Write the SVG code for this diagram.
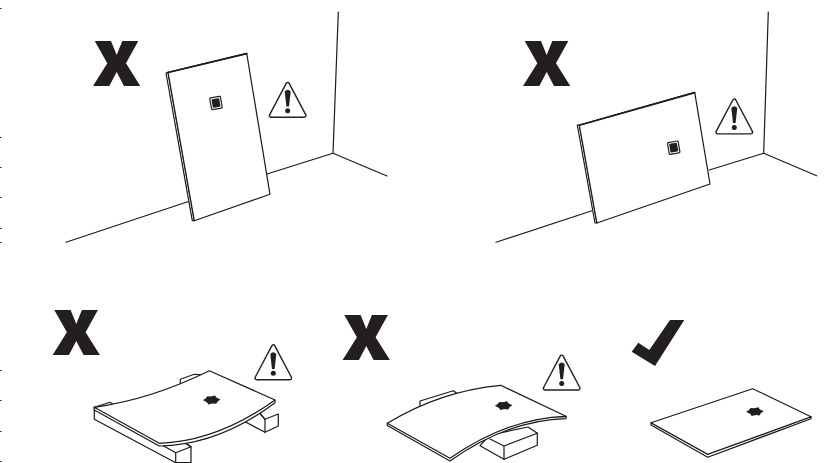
<svg xmlns="http://www.w3.org/2000/svg" width="836" height="463" viewBox="0 0 836 463">
<style>
.l{fill:none;stroke:#1a1a1a;stroke-width:1.2;stroke-linejoin:round;stroke-linecap:round}
.w{fill:#fff;stroke:#1a1a1a;stroke-width:1.2;stroke-linejoin:round}
.k{fill:#231f20}
</style>
<defs>
<polygon id="x" class="k" points="94.7,41 111,41 116.7,55 122.3,41 138.3,41 126,63.3 140.3,86 124,86 116.7,72 109.3,86 93,86 107.3,63.3"/>
<g id="warn">
<path d="M0,3.2L-16.6,34.6H16.6Z" fill="#fff" stroke="#231f20" stroke-width="4.8" stroke-linejoin="round"/>
<path d="M0,3.2L-16.6,34.6H16.6Z" fill="#fff" stroke="#fff" stroke-width="2" stroke-linejoin="round"/>
<path class="k" d="M-3,10.5Q0,7 3,10.5L1.3,25.5H-1.3Z"/>
<circle class="k" cx="0" cy="29.8" r="2.5"/>
</g>
<g id="chip">
<rect x="-5.4" y="-6" width="10.8" height="12" rx="1" fill="#fff" stroke="#231f20" stroke-width="1.2"/>
<rect x="-3.9" y="-4.4" width="7.8" height="8.8" rx="1" class="k"/>
</g>
<path id="flatchip" class="k" d="M-8.8,0L-6,-1.6L-4.5,-3.8L-1,-3.4L3.4,-4.4L4.6,-2.4L8.8,-0.4L6,1.4L4.5,3.8L1,3.4L-3.4,4.4L-4.6,2.4Z"/>
</defs>

<g id="specks" class="k">
<rect x="0" y="8" width="1.5" height="1"/><rect x="0" y="137" width="1.5" height="1"/><rect x="0" y="167" width="1.5" height="1"/><rect x="0" y="197" width="1.5" height="1"/><rect x="0" y="228" width="1.5" height="1"/><rect x="0" y="242" width="1.5" height="1"/><rect x="0" y="370" width="1.5" height="1"/><rect x="0" y="400" width="1.5" height="1"/><rect x="0" y="431" width="1.5" height="1"/><rect x="0" y="461" width="1.5" height="1"/>
</g>

<g id="scene-1">
<path class="l" d="M66,242.3L190,201M267,174L333,153.3L338.3,12M333,153.3L387,176"/>
<path class="w" d="M166,73L192.3,220.7H194.3L168,72.3Z"/>
<path class="w" d="M168,72.3L246.7,53.3L270,194.3L194.3,220.7Z"/>
<path class="l" style="stroke-width:1.7" d="M168,72.5L246.7,53.6"/>
<use href="#x"/>
<use href="#warn" x="287.7" y="81"/>
<use href="#chip" transform="translate(216,103) rotate(-10)"/>
</g>

<g id="scene-2">
<path class="l" d="M496,242.3L592,210.7M709.3,170L763.7,153.3L768.3,12M763.7,153.3L816.7,175.7"/>
<path class="w" d="M577.3,125L595,223H596.9L579.3,125Z"/>
<path class="w" d="M579.3,125L694.7,92.3L710,184L596.9,223Z"/>
<path class="l" style="stroke-width:1.7" d="M579.3,125.2L694.7,92.6"/>
<use href="#x" x="430"/>
<use href="#warn" x="734.3" y="97.6"/>
<use href="#chip" transform="translate(673.7,147.7) rotate(-10)"/>
</g>

<g id="scene-3">
<path class="w" d="M255,408L265,419.3L278.3,414V426L265,432.3L241.7,420Z"/>
<path class="l" d="M265,419.3V432.3M258,410.5L265,419.3"/>
<path class="w" d="M180.3,385V379.3L194.3,374.3L205,375L190,382Z"/>
<path class="w" d="M94.3,407.3L110,402.3L114,405L100,411Z"/>
<path class="w" d="M94.3,407.3V419.3L175.7,462.7H191V446.7L180,440L160,440Z"/>
<path class="l" d="M175.7,452.7V463M175.7,452.7L191,446.7M163.3,445.7L175.7,452.7M180,440L191,446.7"/>
<path class="w" d="M94.3,407.3V410L159.3,446Q219,445 275,402.7V400Z"/>
<path class="w" d="M94.3,407.3Q152,399 209.3,370.7L275,400Q217,441.5 159.3,443.3Z"/>
<use href="#x" x="-40.4" y="269"/>
<use href="#warn" x="273.3" y="343.4"/>
<use href="#flatchip" transform="translate(211.7,400)"/>
</g>

<g id="scene-4">
<path class="w" d="M480,445.7L504,459.3L537.3,445.3V433.3L528,427L490,435Z"/>
<path class="l" d="M504,459.3V446L537.3,433.3M490,439L504,446"/>
<path class="w" d="M420,407V401L453.3,390.7L458.3,394.3L422,409Z"/>
<path class="w" d="M387.3,423.3V425.6L450,461Q508,420 566,418.6V416.3Z"/>
<path class="w" d="M387.3,423.3Q440,391 500.7,385.3L566,416.3Q508,418 450,458.3Z"/>
<use href="#x" x="249.6" y="274"/>
<use href="#warn" x="561.7" y="353.7"/>
<use href="#flatchip" transform="translate(503.7,405.7)"/>
</g>

<g id="scene-5">
<path class="w" d="M651,422.7V425L707.7,457.3L811,418.7V416.7L707.7,454.3Z"/>
<path class="w" d="M651,422.7L752.7,388.7L811,416.7L707.7,454.3Z"/>
<polygon class="k" points="631.7,351.7 638.3,342.7 649.3,350 670,320 684.3,320 655,366"/>
<use href="#flatchip" transform="translate(755,411.7)"/>
</g>
</svg>
